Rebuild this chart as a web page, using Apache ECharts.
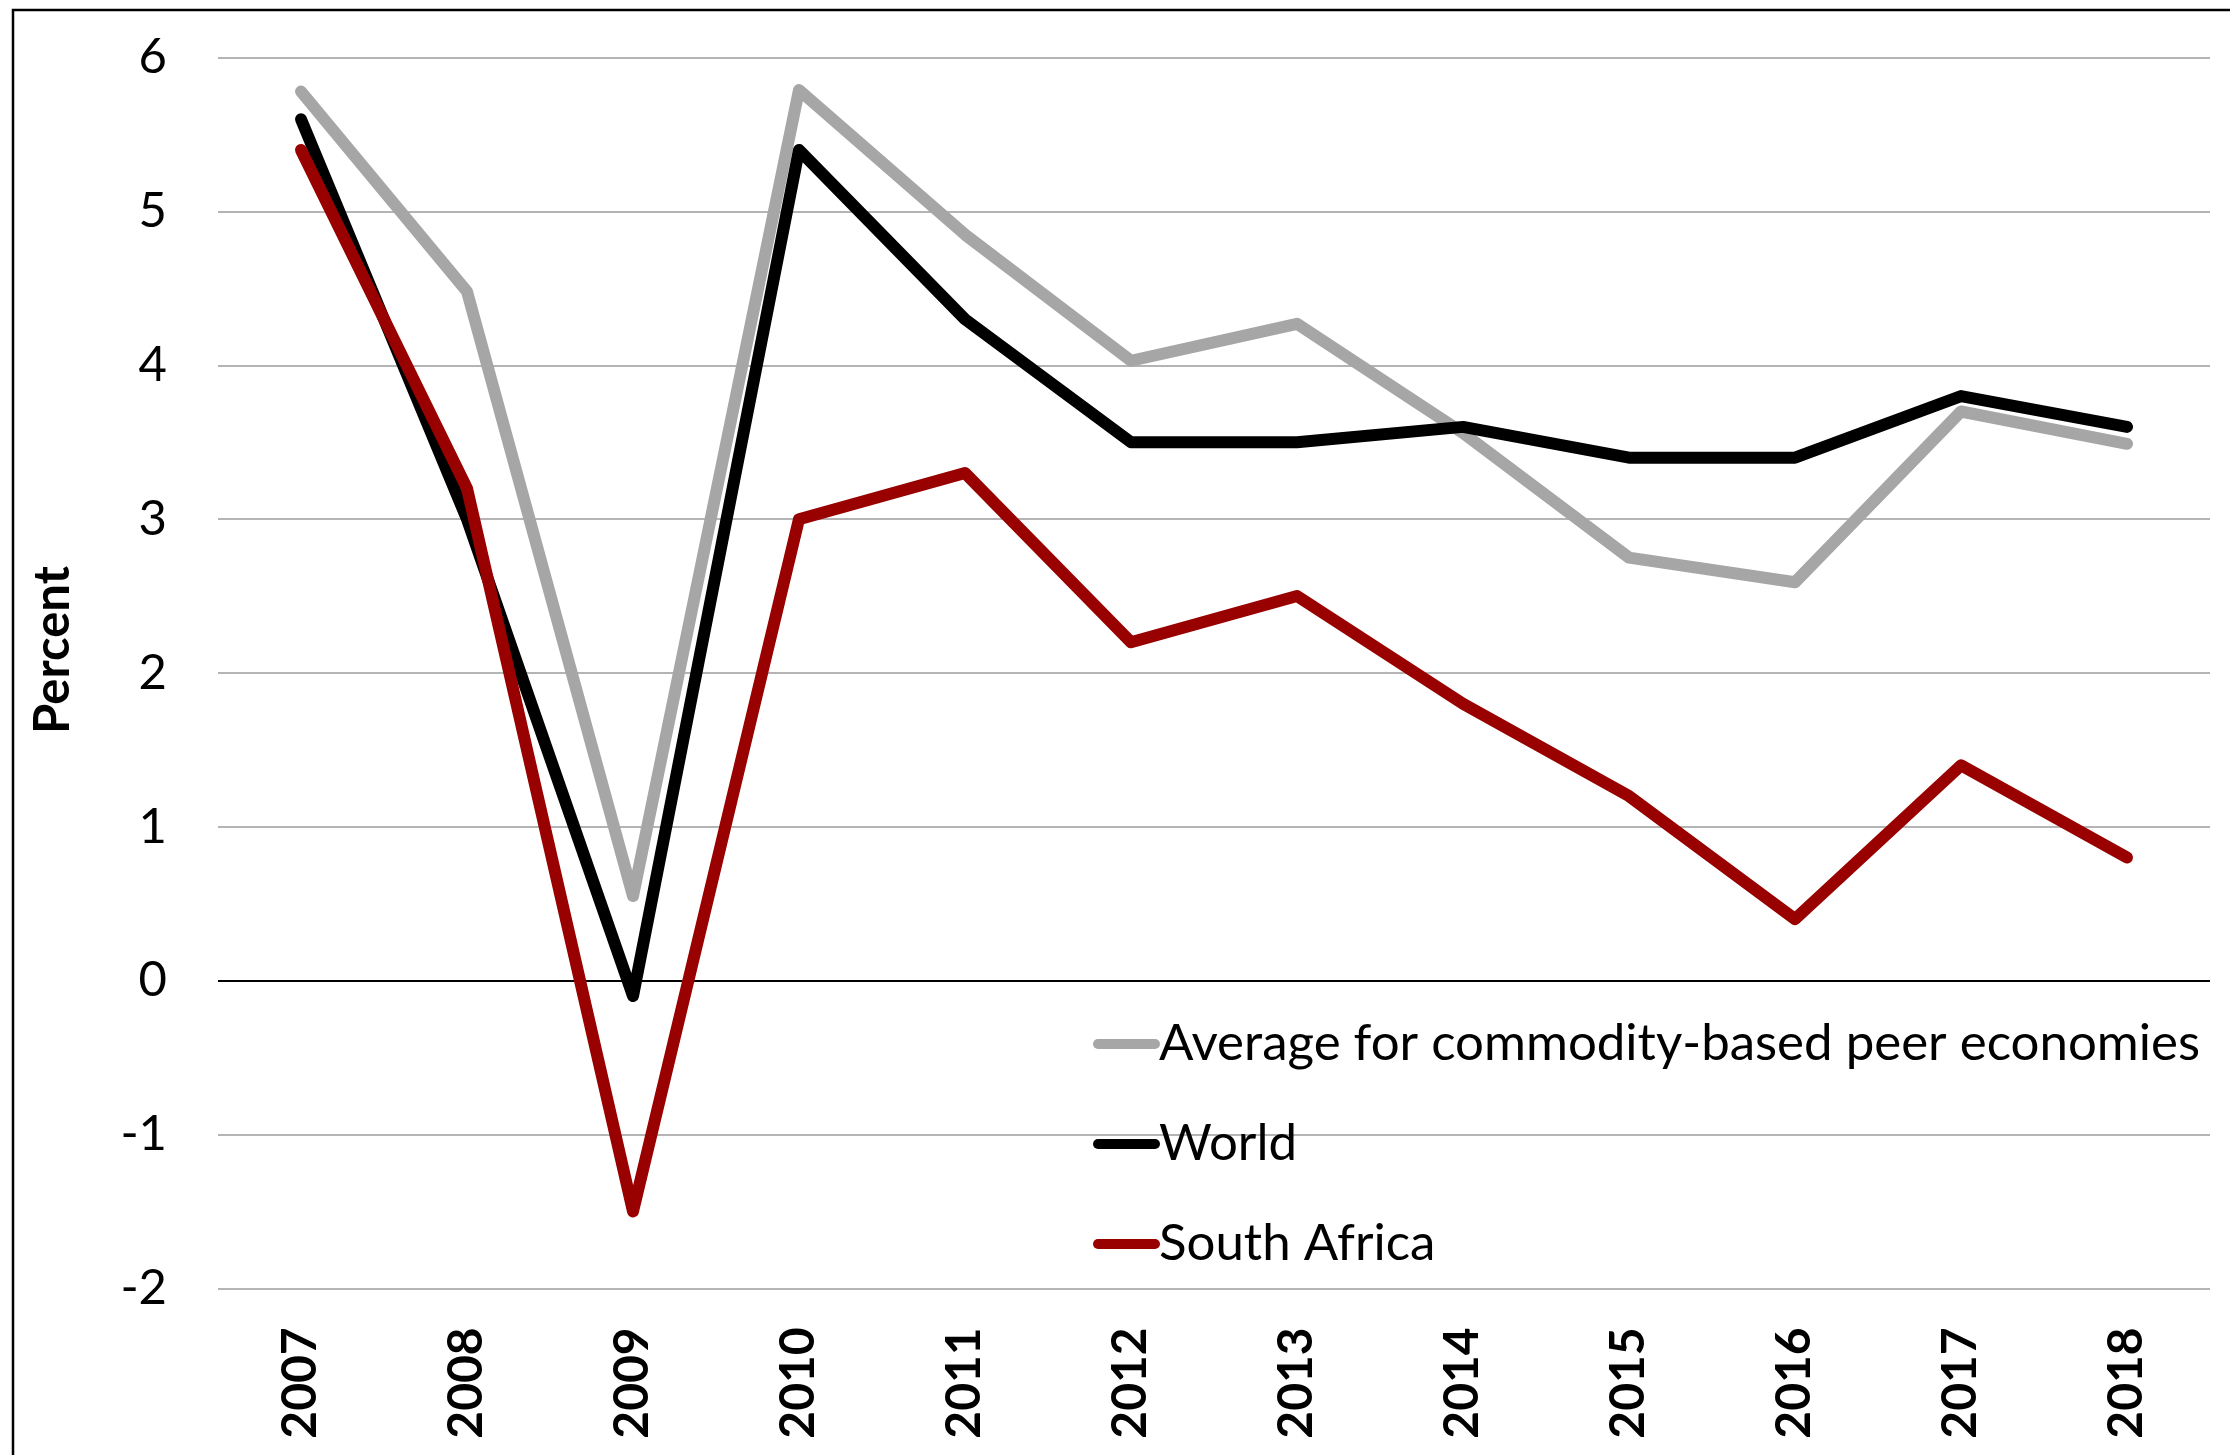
<!DOCTYPE html>
<html>
<head>
<meta charset="utf-8">
<title>Real GDP growth</title>
<script src="https://cdn.jsdelivr.net/npm/echarts@6/dist/echarts.min.js"></script>
<style>
  html, body { margin: 0; padding: 0; background: #ffffff; }
  #chart { width: 2230px; height: 1455px; }
</style>
</head>
<body>
<div id="chart"></div>
<script>
// Years on the category axis
const years = ['2007', '2008', '2009', '2010', '2011', '2012', '2013', '2014', '2015', '2016', '2017', '2018'];

// Real GDP growth, percent
const peerAverage = [5.78, 4.48, 0.55, 5.79, 4.85, 4.03, 4.27, 3.56, 2.75, 2.59, 3.70, 3.49];
const world       = [5.6, 3.0, -0.1, 5.4, 4.3, 3.5, 3.5, 3.6, 3.4, 3.4, 3.8, 3.6];
const southAfrica = [5.4, 3.2, -1.5, 3.0, 3.3, 2.2, 2.5, 1.8, 1.2, 0.4, 1.4, 0.8];

const seriesNames = ['Average for commodity-based peer economies', 'World', 'South Africa'];
const seriesColors = ['#a6a6a6', '#000000', '#990000'];

// Y axis range and ticks
const yMin = -2, yMax = 6, yStep = 1;

const font = 'Lato, "Open Sans", "Noto Sans", sans-serif';

// Split lines from -2 to 6; the zero line is drawn in black
const splitColors = [];
for (let v = yMin; v <= yMax; v += yStep) splitColors.push(v === 0 ? '#000000' : '#b4b4b4');

const chart = echarts.init(document.getElementById('chart'), null, { renderer: 'canvas' });

function lineSeries(name, data, color) {
  return {
    name: name,
    type: 'line',
    data: data,
    symbol: 'none',
    smooth: false,
    lineStyle: { color: color, width: 12, cap: 'round', join: 'round' },
    itemStyle: { color: color },
    emphasis: { disabled: true }
  };
}

chart.setOption({
  backgroundColor: '#ffffff',
  animation: false,
  textStyle: { fontFamily: font },
  grid: { left: 218, right: 20, top: 57.7, bottom: 166.7, containLabel: false },
  graphic: [
    {
      type: 'rect',
      shape: { x: 13, y: 10, width: 2400, height: 1600 },
      style: { fill: 'none', stroke: '#000000', lineWidth: 2.5 },
      silent: true,
      z: -10
    },
    {
      type: 'text',
      x: 53,
      y: 650,
      rotation: Math.PI / 2,
      style: {
        text: 'Percent',
        font: 'bold 49px ' + font,
        fill: '#000000',
        align: 'center',
        verticalAlign: 'middle'
      },
      silent: true
    }
  ],
  legend: {
    orient: 'vertical',
    left: 1088,
    top: 1009,
    itemWidth: 67,
    itemHeight: 12,
    itemGap: 40,
    icon: 'path://M5,0 L62,0 A5,5 0 0 1 62,10 L5,10 A5,5 0 0 1 5,0 Z',
    data: seriesNames,
    textStyle: {
      fontFamily: font,
      fontSize: 51,
      color: '#000000',
      lineHeight: 60,
      padding: [0, 0, 0, -6]
    },
    selectedMode: false
  },
  xAxis: {
    type: 'category',
    data: years,
    boundaryGap: true,
    axisLine: { show: false, onZero: false },
    axisTick: { show: false },
    splitLine: { show: false },
    axisLabel: {
      rotate: 90,
      margin: 39,
      interval: 0,
      fontFamily: font,
      fontWeight: 'bold',
      fontSize: 48,
      color: '#000000'
    }
  },
  yAxis: {
    type: 'value',
    min: yMin,
    max: yMax,
    interval: yStep,
    axisLine: { show: false },
    axisTick: { show: false },
    axisLabel: {
      margin: 51,
      fontFamily: font,
      fontSize: 49,
      color: '#000000'
    },
    splitLine: { show: true, lineStyle: { color: splitColors, width: 2 } }
  },
  series: [
    lineSeries(seriesNames[0], peerAverage, seriesColors[0]),
    lineSeries(seriesNames[1], world, seriesColors[1]),
    lineSeries(seriesNames[2], southAfrica, seriesColors[2])
  ]
});
</script>
</body>
</html>
